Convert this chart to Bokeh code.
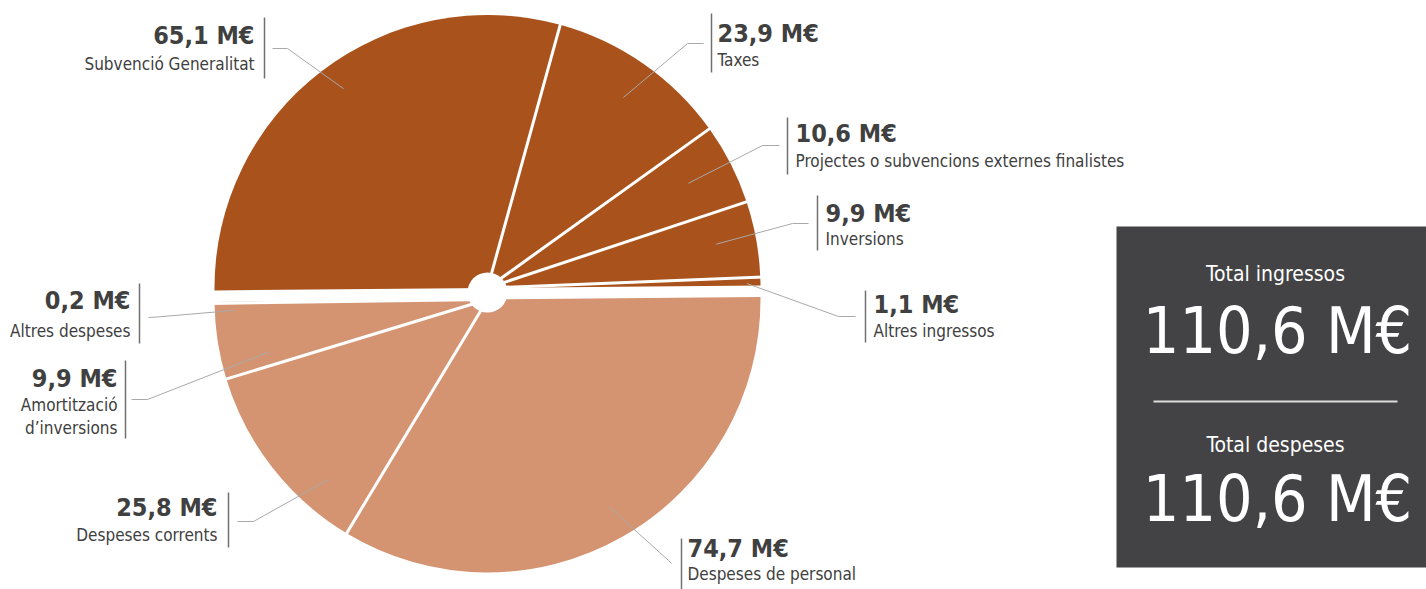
import math
from bokeh.plotting import figure
from bokeh.models import Range1d, ColumnDataSource
from bokeh.core.properties import value
from bokeh.embed import file_html
from bokeh.resources import INLINE

# ---------------- data ----------------
ingressos_labels = ["Altres ingressos", "Inversions",
                    "Projectes o subvencions externes finalistes", "Taxes",
                    "Subvenció Generalitat"]
ingressos_values = [1.1, 9.9, 10.6, 23.9, 65.1]

despeses_labels = ["Altres despeses", "Amortització\nd’inversions",
                   "Despeses corrents", "Despeses de personal"]
despeses_values = [0.2, 9.9, 25.8, 74.7]

total_titles = ["Total ingressos", "Total despeses"]

# ---------------- style ----------------
C_ING = "#A9521B"
C_DES = "#D49471"
TEXT = "#404040"
BOX = "#434345"
FONT = value("DejaVu Sans Condensed, Roboto, sans-serif")
NUM_SIZE = 25
LAB_SIZE = 17
BASE_FIX = 0.41   # renderer puts the baseline ~0.41em too low

W, H = 1426, 589


def sx(x):
    return x


def sy(y):
    return H - y


def ty(baseline, size):
    return sy(baseline - BASE_FIX * size)


def fmt(v):
    return f"{v:.1f}".replace(".", ",") + " M€"


p = figure(width=W, height=H, x_range=Range1d(0, W), y_range=Range1d(0, H),
           output_backend="svg", toolbar_location=None, min_border=0,
           x_axis_type=None, y_axis_type=None)
p.outline_line_color = None
p.background_fill_color = "white"
p.border_fill_color = "white"

# ---------------- pie halves ----------------
R = 273
ROT = math.radians(0.5)
top_c = (sx(487), sy(287.5))
bot_c = (sx(487), sy(299))


def half_angles(values, start):
    total = sum(values)
    s, e = [], []
    a = start
    for v in values:
        s.append(a)
        a += math.pi * v / total
        e.append(a)
    return s, e


ing_s, ing_e = half_angles(ingressos_values, ROT)
des_s, des_e = half_angles(despeses_values, ROT + math.pi)

src_ing = ColumnDataSource(dict(start=ing_s, end=ing_e, label=ingressos_labels,
                                val=ingressos_values))
src_des = ColumnDataSource(dict(start=des_s, end=des_e, label=despeses_labels,
                                val=despeses_values))
p.wedge(x=top_c[0], y=top_c[1], radius=R, start_angle="start", end_angle="end",
        source=src_ing, fill_color=C_ING, line_color=None)
p.wedge(x=bot_c[0], y=bot_c[1], radius=R, start_angle="start", end_angle="end",
        source=src_des, fill_color=C_DES, line_color=None)

# white separators between slices within each half
x0, y0, x1, y1 = [], [], [], []
for (cx, cy), ends in ((top_c, ing_e[:-1]), (bot_c, des_e[:-1])):
    for a in ends:
        x0.append(cx)
        y0.append(cy)
        x1.append(cx + (R + 3) * math.cos(a))
        y1.append(cy + (R + 3) * math.sin(a))
p.segment(x0=x0, y0=y0, x1=x1, y1=y1, line_color="white", line_width=3)

# centre hole
p.circle(x=[sx(487)], y=[sy(292)], radius=20, fill_color="white", line_color=None)

# ---------------- labels ----------------
# (align, text_x, number_baseline, label_baseline, bar_x, bar_top, bar_bottom,
#  leader_start, leader_elbow, leader radius fraction, angle nudge in degrees)
ing_layout = [
    ("left", 873, 314, 337, 865, 290, 342, (855, 316), (838, 316), 0.95, -0.4),
    ("left", 825, 223, 245, 817, 195, 250, (808, 223), (792, 223), 0.853, 0.5),
    ("left", 795, 143, 167, 787, 117, 174, (779, 145), (762, 145), 0.83, 0.5),
    ("left", 717, 43, 66, 711, 13, 72, (703, 43), (687, 43), 0.857, -0.6),
    ("right", 254, 45, 70, 264, 17, 78, (272, 48), (287, 48), 0.90, -1.7),
]
des_layout = [
    ("right", 130, 310, 337, 139, 283, 343, (148, 317), (158, 316.4), 0.93, 1.8),
    ("right", 117, 388, 411, 125, 360, 438, (131, 399), (147, 399), 0.82, 4.6),
    ("right", 217, 517, 541, 228, 492, 547, (237, 521), (253, 521), 0.88, 10.6),
    ("left", 687, 558, 580, 681, 538, 589, (671, 563), (668, 560), 0.88, 0.7),
]

bar_x0, bar_y0, bar_y1 = [], [], []
lead_xs, lead_ys = [], []

for (cx, cy), s_list, e_list, vals, labs, layout in (
        (top_c, ing_s, ing_e, ingressos_values, ingressos_labels, ing_layout),
        (bot_c, des_s, des_e, despeses_values, despeses_labels, des_layout)):
    for s, e, v, lab, lay in zip(s_list, e_list, vals, labs, layout):
        align, tx, nb, lb, bx, bt, bb, st, el, rf, nudge = lay
        p.text(x=[sx(tx)], y=[ty(nb, NUM_SIZE)], text=[fmt(v)], text_align=align,
               text_baseline="alphabetic", text_font=FONT,
               text_font_size=f"{NUM_SIZE}px", text_font_style="bold",
               text_color=TEXT)
        for i, line in enumerate(lab.split("\n")):
            p.text(x=[sx(tx)], y=[ty(lb + 23 * i, LAB_SIZE)], text=[line],
                   text_align=align, text_baseline="alphabetic", text_font=FONT,
                   text_font_size=f"{LAB_SIZE}px", text_color=TEXT)
        bar_x0.append(sx(bx))
        bar_y0.append(sy(bt))
        bar_y1.append(sy(bb))
        mid = (s + e) / 2 + math.radians(nudge)
        ex = cx + rf * R * math.cos(mid)
        ey = cy + rf * R * math.sin(mid)
        lead_xs.append([sx(st[0]), sx(el[0]), ex])
        lead_ys.append([sy(st[1]), sy(el[1]), ey])

p.segment(x0=bar_x0, y0=bar_y0, x1=bar_x0, y1=bar_y1, line_color="#707070",
          line_width=1.5)
p.multi_line(xs=lead_xs, ys=lead_ys, line_color="#a9a9a9", line_width=1)

# ---------------- totals box ----------------
p.quad(left=[sx(1116)], right=[W], top=[sy(226)], bottom=[sy(567)],
       fill_color=BOX, line_color=None)
totals = [sum(ingressos_values), sum(despeses_values)]
for title, tot, tb, nb in zip(total_titles, totals, (282, 453), (357, 525)):
    p.text(x=[sx(1275)], y=[ty(tb, 21)], text=[title], text_align="center",
           text_baseline="alphabetic", text_font=FONT, text_font_size="21px",
           text_color="white")
    p.text(x=[sx(1277)], y=[ty(nb, 64)], text=[fmt(tot)], text_align="center",
           text_baseline="alphabetic", text_font=FONT, text_font_size="64px",
           text_color="white")
p.segment(x0=[sx(1153)], y0=[sy(401)], x1=[sx(1397)], y1=[sy(401)],
          line_color="#dcdcdc", line_width=2)

open("out.html", "w").write(file_html(p, INLINE))
